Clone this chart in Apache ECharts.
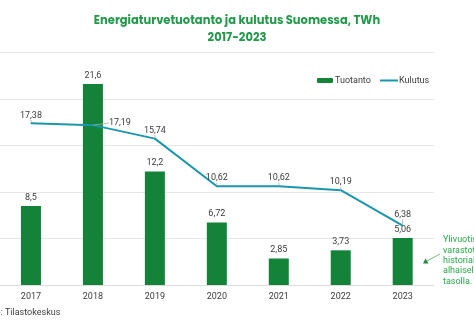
<!DOCTYPE html>
<html><head><meta charset="utf-8">
<script src="https://cdn.jsdelivr.net/npm/echarts@6/dist/echarts.min.js"></script>
<style>html,body{margin:0;padding:0;background:#fff}#c{width:474px;height:324px}</style>
</head><body><div id="c"></div>
<script>
const years = ['2017','2018','2019','2020','2021','2022','2023'];
const tuotanto = [8.5, 21.6, 12.2, 6.72, 2.85, 3.73, 5.06];
const kulutus = [17.38, 17.19, 15.74, 10.62, 10.62, 10.19, 6.38];
const titleLines = ['Energiaturvetuotanto ja kulutus Suomessa, TWh', '2017-2023'];
const sourceText = 'Lähde: Tilastokeskus';
const noteText = 'Ylivuotiset\nvarastot\nhistoriallisen\nalhaisella\ntasolla.';

const fmt = v => String(v).replace('.', ',');
const green = '#13833a', teal = '#1b97ad', txt = '#3c3c3c';
const font = 'Roboto';

const chart = echarts.init(document.getElementById('c'), null, {renderer: 'canvas'});
chart.setOption({
  animation: false,
  textStyle: {fontFamily: font},
  title: {
    text: titleLines.join('\n'), left: 'center', top: 8,
    textStyle: {fontFamily: 'Poppins, "Open Sans", sans-serif', fontWeight: 'bold', fontSize: 11.5, color: '#23994a', lineHeight: 17}
  },
  legend: [
    {data: ['Tuotanto'], left: 312, top: 71, itemWidth: 16, itemHeight: 5, itemGap: 2,
     textStyle: {fontSize: 9, color: txt, padding: [0,0,0,-3]}},
    {data: ['Kulutus'], left: 374, top: 71, itemWidth: 18, itemHeight: 2, itemGap: 2,
     textStyle: {fontSize: 9, color: txt, padding: [0,0,0,-4]}}
  ],
  grid: {left: -9.67, right: 40.33, top: 52.5, bottom: 39, containLabel: false},
  xAxis: {
    type: 'category', data: years,
    axisLine: {lineStyle: {color: '#dcdcdc'}}, axisTick: {show: false},
    axisLabel: {color: txt, fontSize: 9, margin: 7}
  },
  yAxis: {
    type: 'value', min: 0, max: 25, interval: 5,
    axisLabel: {show: false}, axisLine: {show: false}, axisTick: {show: false},
    splitLine: {lineStyle: {color: '#e6e6e6'}}
  },
  series: [
    {name: 'Tuotanto', type: 'bar', data: tuotanto, barWidth: 20,
     itemStyle: {color: green},
     label: {show: true, position: 'top', distance: 4, fontSize: 9, color: txt, formatter: p => fmt(p.value)}},
    {name: 'Kulutus', type: 'line', data: kulutus, symbol: 'circle', symbolSize: 1, showSymbol: true,
     lineStyle: {color: teal, width: 2}, itemStyle: {color: teal},
     label: {show: true, position: 'top', distance: 3, fontSize: 9, color: txt, formatter: p => fmt(p.value)},
     labelLine: {show: true, lineStyle: {color: '#aaa', width: 0.8}},
     labelLayout: p => p.dataIndex === 1 ? {dx: 27, dy: 6} : (p.dataIndex === 6 ? {dy: -3} : {})}
  ],
  graphic: [
    {type: 'text', left: -24, top: 308, style: {text: sourceText, fontSize: 9, fill: txt, fontFamily: font}},
    {type: 'text', left: 443, top: 235, style: {text: noteText, fontSize: 9, lineHeight: 10.3, fill: '#2aa84a', fontFamily: font}},
    {type: 'line', shape: {x1: 440, y1: 254, x2: 427, y2: 261}, style: {stroke: '#55a866', lineWidth: 0.8}},
    {type: 'polygon', shape: {points: [[423, 263.5], [428.5, 263.5], [425.5, 258.5]]}, style: {fill: '#1e8a3a'}}
  ]
});
</script></body></html>
